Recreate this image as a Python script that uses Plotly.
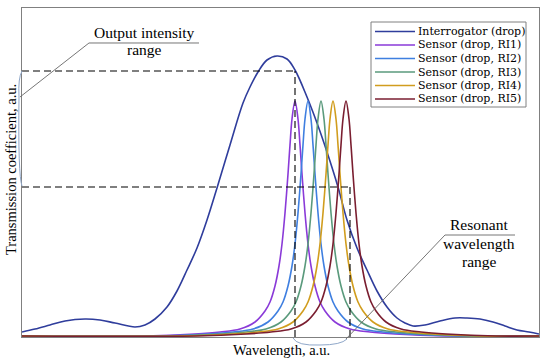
import plotly.graph_objects as go

# ---------------- data (arbitrary units) ----------------
series_names = ["Interrogator (drop)", "Sensor (drop, RI1)", "Sensor (drop, RI2)",
                "Sensor (drop, RI3)", "Sensor (drop, RI4)", "Sensor (drop, RI5)"]
series_colors = ["#2f3d9c", "#8a3ad8", "#3f7fe0", "#5a9a7c", "#d19d1e", "#7a1e30"]

interrogator_x = [0, 13, 28, 43, 63, 78, 93, 113, 123, 133, 145, 155, 165, 175, 185, 195, 208, 221,
                  228, 236, 245, 255, 265, 273, 285, 295, 305, 316, 325, 335, 345, 355, 365, 375,
                  383, 391, 403, 418, 433, 445, 458, 471, 483, 495, 507, 517]
interrogator_y = [5, 8, 12, 16, 18, 17, 14, 10, 12, 18, 30, 46, 67, 89, 117, 149, 192, 234,
                  250, 265, 277, 281, 278, 267, 240, 214, 185, 150, 117, 89, 67, 46, 30, 19,
                  14, 11, 12, 16, 19, 19, 18, 15, 11, 7, 5, 3]

ri1_x = [0, 123, 173, 198, 218, 233, 243, 248, 253, 257, 260, 263, 266, 268, 270, 273, 276, 278,
         280, 283, 286, 289, 293, 298, 303, 313, 328, 348, 373, 423, 517]
ri1_y = [1, 1, 3, 5, 8, 15, 26, 35, 51, 71, 93, 124, 163, 192, 218, 236, 218, 192,
         163, 124, 93, 71, 51, 35, 26, 15, 8, 5, 3, 1, 1]

ri2_x = [0, 136, 186, 211, 231, 246, 256, 261, 266, 270, 273, 276, 279, 281, 283, 286, 289, 291,
         293, 296, 299, 302, 306, 311, 316, 326, 341, 361, 386, 436, 517]
ri2_y = [1, 1, 3, 5, 8, 15, 26, 35, 51, 71, 93, 124, 163, 192, 218, 236, 218, 192,
         163, 124, 93, 71, 51, 35, 26, 15, 8, 5, 3, 1, 1]

ri3_x = [0, 149, 199, 224, 244, 259, 269, 274, 279, 283, 286, 289, 292, 294, 296, 299, 302, 304,
         306, 309, 312, 315, 319, 324, 329, 339, 354, 374, 399, 449, 517]
ri3_y = [1, 1, 3, 5, 8, 15, 26, 35, 51, 71, 93, 124, 163, 192, 218, 236, 218, 192,
         163, 124, 93, 71, 51, 35, 26, 15, 8, 5, 3, 1, 1]

ri4_x = [0, 161, 211, 236, 256, 271, 281, 286, 291, 295, 298, 301, 304, 306, 308, 311, 314, 316,
         318, 321, 324, 327, 331, 336, 341, 351, 366, 386, 411, 461, 517]
ri4_y = [1, 1, 3, 5, 8, 15, 26, 35, 51, 71, 93, 124, 163, 192, 218, 236, 218, 192,
         163, 124, 93, 71, 51, 35, 26, 15, 8, 5, 3, 1, 1]

ri5_x = [0, 174, 224, 249, 269, 284, 294, 299, 304, 308, 311, 314, 317, 319, 321, 324, 327, 329,
         331, 334, 337, 340, 344, 349, 354, 364, 379, 399, 424, 474, 517]
ri5_y = [1, 1, 3, 5, 8, 15, 26, 35, 51, 71, 93, 124, 163, 192, 218, 236, 218, 192,
         163, 124, 93, 71, 51, 35, 26, 15, 8, 5, 3, 1, 1]

# output-intensity levels and resonant-wavelength range marked by dashed lines
intensity_levels = [150, 266]
wavelength_range = [273, 328]

x_range = [0, 517]
y_range = [0, 329]

# ---------------- figure ----------------
W, H = 550, 362
ML, MR, MT, MB = 22, 11, 8, 25
PW, PH = W - ML - MR, H - MT - MB
FONT = "Liberation Serif"
LEGEND_FONT = "DejaVu Serif"


def fx(xp):
    return (xp - ML) / PW


def fy(yp):
    return (H - MB - yp) / PH


fig = go.Figure()
all_x = [interrogator_x, ri1_x, ri2_x, ri3_x, ri4_x, ri5_x]
all_y = [interrogator_y, ri1_y, ri2_y, ri3_y, ri4_y, ri5_y]
for xs, ys, nm, col in zip(all_x, all_y, series_names, series_colors):
    fig.add_trace(go.Scatter(x=xs, y=ys, mode="lines", name=nm, showlegend=False,
                             line=dict(color=col, width=1.6, shape="spline", smoothing=1.0),
                             hoverinfo="skip"))

shapes = []
dash = "7px,4px"
# dashed guide lines
shapes.append(dict(type="line", xref="x", yref="y", x0=0, x1=wavelength_range[0],
                   y0=intensity_levels[1], y1=intensity_levels[1],
                   line=dict(color="black", width=1.1, dash=dash)))
shapes.append(dict(type="line", xref="x", yref="y", x0=0, x1=wavelength_range[1],
                   y0=intensity_levels[0], y1=intensity_levels[0],
                   line=dict(color="black", width=1.1, dash=dash)))
shapes.append(dict(type="line", xref="x", yref="y", x0=wavelength_range[0], x1=wavelength_range[0],
                   y0=0, y1=intensity_levels[1],
                   line=dict(color="black", width=1.1, dash=dash)))
shapes.append(dict(type="line", xref="x", yref="y", x0=wavelength_range[1], x1=wavelength_range[1],
                   y0=0, y1=intensity_levels[0],
                   line=dict(color="black", width=1.1, dash=dash)))


def path(pts, cmds):
    s = ""
    for c, (a, b) in zip(cmds, pts):
        s += f"{c} {fx(a):.5f},{fy(b):.5f} "
    return s.strip()


brace_col = "#8fa7c9"
leader_col = "#666666"
# left brace
shapes.append(dict(type="path", xref="paper", yref="paper",
                   path=(f"M {fx(22):.5f},{fy(71):.5f} Q {fx(18):.5f},{fy(78):.5f} {fx(19):.5f},{fy(97):.5f} "
                         f"Q {fx(18):.5f},{fy(175):.5f} {fx(22):.5f},{fy(186):.5f}"),
                   line=dict(color=brace_col, width=1)))
# bottom brace
shapes.append(dict(type="path", xref="paper", yref="paper",
                   path=(f"M {fx(293):.5f},{fy(338):.5f} Q {fx(297):.5f},{fy(346):.5f} {fx(320):.5f},{fy(345):.5f} "
                         f"Q {fx(341):.5f},{fy(345):.5f} {fx(347):.5f},{fy(339):.5f}"),
                   line=dict(color=brace_col, width=1)))
# leader lines
shapes.append(dict(type="path", xref="paper", yref="paper",
                   path=path([(20, 97), (89, 43), (199, 43)], ["M", "L", "L"]),
                   line=dict(color=leader_col, width=0.9)))
shapes.append(dict(type="path", xref="paper", yref="paper",
                   path=path([(346, 339), (445, 235), (515, 235)], ["M", "L", "L"]),
                   line=dict(color=leader_col, width=0.9)))

# custom legend box
shapes.append(dict(type="rect", xref="paper", yref="paper",
                   x0=fx(371), x1=fx(526), y0=fy(107), y1=fy(22),
                   line=dict(color="#808080", width=1), fillcolor="white"))
annotations = []
row0, drow = 31.5, 13.5
for i, (nm, col) in enumerate(zip(series_names, series_colors)):
    yy = row0 + i * drow
    shapes.append(dict(type="line", xref="paper", yref="paper",
                       x0=fx(375), x1=fx(415), y0=fy(yy), y1=fy(yy),
                       line=dict(color=col, width=1.6)))
    annotations.append(dict(text=nm, xref="paper", yref="paper", x=fx(417), y=fy(yy),
                            xanchor="left", yanchor="middle", showarrow=False, borderpad=0,
                            font=dict(family=LEGEND_FONT, size=11, color="black")))

text_items = [
    ("Output intensity", 144, 32, 15.5),
    ("range", 144, 50, 15.5),
    ("Resonant", 479, 225, 15.5),
    ("wavelength", 479, 243, 15.5),
    ("range", 479, 261, 15.5),
    ("Wavelength, a.u.", 281, 350, 14.5),
]
for t, ax, ay, sz in text_items:
    annotations.append(dict(text=t, xref="paper", yref="paper", x=fx(ax), y=fy(ay),
                            xanchor="center", yanchor="middle", showarrow=False, borderpad=0,
                            font=dict(family=FONT, size=sz, color="black")))
annotations.append(dict(text="Transmission coefficient, a.u.", xref="paper", yref="paper",
                        x=fx(11), y=fy(170), xanchor="center", yanchor="middle", textangle=-90,
                        showarrow=False, borderpad=0,
                        font=dict(family=FONT, size=14.5, color="black")))

axis_common = dict(showgrid=False, zeroline=False, showticklabels=False, ticks="",
                   showline=True, mirror=True, linecolor="#808080", linewidth=1.3, fixedrange=True)
fig.update_layout(
    width=W, height=H,
    margin=dict(l=ML, r=MR, t=MT, b=MB),
    paper_bgcolor="white", plot_bgcolor="white",
    xaxis=dict(range=x_range, **axis_common),
    yaxis=dict(range=y_range, **axis_common),
    shapes=shapes, annotations=annotations,
    showlegend=False,
)

fig.write_html("out.html", config={"displayModeBar": False},
               post_script="document.body.style.margin='0';document.body.style.padding='0';")
